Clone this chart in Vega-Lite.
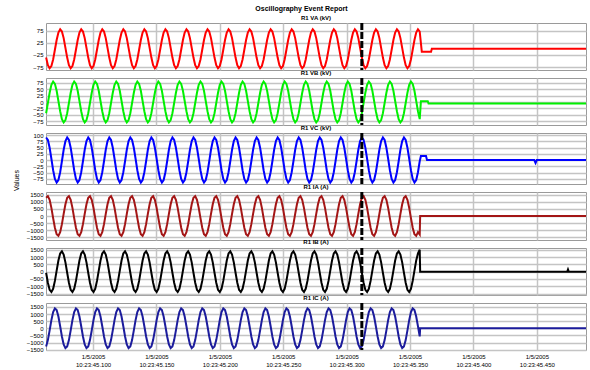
{
"$schema": "https://vega.github.io/schema/vega-lite/v6.json",
"padding": {"left": 12, "top": 5, "right": 3, "bottom": 0},
"background": "white",
"title": {"text": "Oscillography Event Report", "fontSize": 7, "fontWeight": "bold", "offset": 2, "anchor": "middle"},
"data": {"values": [
{"t":63,"va":-36,"vb":-44,"vc":90,"ia":1279,"ib":-73,"ic":-1279},
{"t":64.38,"va":-67,"vb":-4,"vc":80,"ia":1393,"ib":-763,"ic":-823},
{"t":65.77,"va":-80,"vb":36,"vc":49,"ia":1133,"ib":-1247,"ic":-147},
{"t":67.15,"va":-71,"vb":67,"vc":5,"ia":570,"ib":-1398,"ic":570},
{"t":68.53,"va":-44,"vb":80,"vc":-41,"ia":-147,"ib":-1174,"ic":1133},
{"t":69.92,"va":-4,"vb":71,"vc":-76,"ia":-823,"ib":-636,"ic":1393},
{"t":71.3,"va":36,"vb":44,"vc":-90,"ia":-1279,"ib":73,"ic":1279},
{"t":72.68,"va":67,"vb":4,"vc":-80,"ia":-1393,"ib":763,"ic":823},
{"t":74.07,"va":80,"vb":-36,"vc":-49,"ia":-1133,"ib":1247,"ic":147},
{"t":75.45,"va":71,"vb":-67,"vc":-5,"ia":-570,"ib":1398,"ic":-570},
{"t":76.83,"va":44,"vb":-80,"vc":41,"ia":147,"ib":1174,"ic":-1133},
{"t":78.22,"va":4,"vb":-71,"vc":76,"ia":823,"ib":636,"ic":-1393},
{"t":79.6,"va":-36,"vb":-44,"vc":90,"ia":1279,"ib":-73,"ic":-1279},
{"t":80.98,"va":-67,"vb":-4,"vc":80,"ia":1393,"ib":-763,"ic":-823},
{"t":82.37,"va":-80,"vb":36,"vc":49,"ia":1133,"ib":-1247,"ic":-147},
{"t":83.75,"va":-71,"vb":67,"vc":5,"ia":570,"ib":-1398,"ic":570},
{"t":85.13,"va":-44,"vb":80,"vc":-41,"ia":-147,"ib":-1174,"ic":1133},
{"t":86.52,"va":-4,"vb":71,"vc":-76,"ia":-823,"ib":-636,"ic":1393},
{"t":87.9,"va":36,"vb":44,"vc":-90,"ia":-1279,"ib":73,"ic":1279},
{"t":89.28,"va":67,"vb":4,"vc":-80,"ia":-1393,"ib":763,"ic":823},
{"t":90.67,"va":80,"vb":-36,"vc":-49,"ia":-1133,"ib":1247,"ic":147},
{"t":92.05,"va":71,"vb":-67,"vc":-5,"ia":-570,"ib":1398,"ic":-570},
{"t":93.43,"va":44,"vb":-80,"vc":41,"ia":147,"ib":1174,"ic":-1133},
{"t":94.82,"va":4,"vb":-71,"vc":76,"ia":823,"ib":636,"ic":-1393},
{"t":96.2,"va":-36,"vb":-44,"vc":90,"ia":1279,"ib":-73,"ic":-1279},
{"t":97.58,"va":-67,"vb":-4,"vc":80,"ia":1393,"ib":-763,"ic":-823},
{"t":98.97,"va":-80,"vb":36,"vc":49,"ia":1133,"ib":-1247,"ic":-147},
{"t":100.35,"va":-71,"vb":67,"vc":5,"ia":570,"ib":-1398,"ic":570},
{"t":101.73,"va":-44,"vb":80,"vc":-41,"ia":-147,"ib":-1174,"ic":1133},
{"t":103.12,"va":-4,"vb":71,"vc":-76,"ia":-823,"ib":-636,"ic":1393},
{"t":104.5,"va":36,"vb":44,"vc":-90,"ia":-1279,"ib":73,"ic":1279},
{"t":105.88,"va":67,"vb":4,"vc":-80,"ia":-1393,"ib":763,"ic":823},
{"t":107.27,"va":80,"vb":-36,"vc":-49,"ia":-1133,"ib":1247,"ic":147},
{"t":108.65,"va":71,"vb":-67,"vc":-5,"ia":-570,"ib":1398,"ic":-570},
{"t":110.03,"va":44,"vb":-80,"vc":41,"ia":147,"ib":1174,"ic":-1133},
{"t":111.42,"va":4,"vb":-71,"vc":76,"ia":823,"ib":636,"ic":-1393},
{"t":112.8,"va":-36,"vb":-44,"vc":90,"ia":1279,"ib":-73,"ic":-1279},
{"t":114.18,"va":-67,"vb":-4,"vc":80,"ia":1393,"ib":-763,"ic":-823},
{"t":115.57,"va":-80,"vb":36,"vc":49,"ia":1133,"ib":-1247,"ic":-147},
{"t":116.95,"va":-71,"vb":67,"vc":5,"ia":570,"ib":-1398,"ic":570},
{"t":118.33,"va":-44,"vb":80,"vc":-41,"ia":-147,"ib":-1174,"ic":1133},
{"t":119.72,"va":-4,"vb":71,"vc":-76,"ia":-823,"ib":-636,"ic":1393},
{"t":121.1,"va":36,"vb":44,"vc":-90,"ia":-1279,"ib":73,"ic":1279},
{"t":122.48,"va":67,"vb":4,"vc":-80,"ia":-1393,"ib":763,"ic":823},
{"t":123.87,"va":80,"vb":-36,"vc":-49,"ia":-1133,"ib":1247,"ic":147},
{"t":125.25,"va":71,"vb":-67,"vc":-5,"ia":-570,"ib":1398,"ic":-570},
{"t":126.63,"va":44,"vb":-80,"vc":41,"ia":147,"ib":1174,"ic":-1133},
{"t":128.02,"va":4,"vb":-71,"vc":76,"ia":823,"ib":636,"ic":-1393},
{"t":129.4,"va":-36,"vb":-44,"vc":90,"ia":1279,"ib":-73,"ic":-1279},
{"t":130.78,"va":-67,"vb":-4,"vc":80,"ia":1393,"ib":-763,"ic":-823},
{"t":132.17,"va":-80,"vb":36,"vc":49,"ia":1133,"ib":-1247,"ic":-147},
{"t":133.55,"va":-71,"vb":67,"vc":5,"ia":570,"ib":-1398,"ic":570},
{"t":134.93,"va":-44,"vb":80,"vc":-41,"ia":-147,"ib":-1174,"ic":1133},
{"t":136.32,"va":-4,"vb":71,"vc":-76,"ia":-823,"ib":-636,"ic":1393},
{"t":137.7,"va":36,"vb":44,"vc":-90,"ia":-1279,"ib":73,"ic":1279},
{"t":139.08,"va":67,"vb":4,"vc":-80,"ia":-1393,"ib":763,"ic":823},
{"t":140.47,"va":80,"vb":-36,"vc":-49,"ia":-1133,"ib":1247,"ic":147},
{"t":141.85,"va":71,"vb":-67,"vc":-5,"ia":-570,"ib":1398,"ic":-570},
{"t":143.23,"va":44,"vb":-80,"vc":41,"ia":147,"ib":1174,"ic":-1133},
{"t":144.62,"va":4,"vb":-71,"vc":76,"ia":823,"ib":636,"ic":-1393},
{"t":146,"va":-36,"vb":-44,"vc":90,"ia":1279,"ib":-73,"ic":-1279},
{"t":147.38,"va":-67,"vb":-4,"vc":80,"ia":1393,"ib":-763,"ic":-823},
{"t":148.77,"va":-80,"vb":36,"vc":49,"ia":1133,"ib":-1247,"ic":-147},
{"t":150.15,"va":-71,"vb":67,"vc":5,"ia":570,"ib":-1398,"ic":570},
{"t":151.53,"va":-44,"vb":80,"vc":-41,"ia":-147,"ib":-1174,"ic":1133},
{"t":152.92,"va":-4,"vb":71,"vc":-76,"ia":-823,"ib":-636,"ic":1393},
{"t":154.3,"va":36,"vb":44,"vc":-90,"ia":-1279,"ib":73,"ic":1279},
{"t":155.68,"va":67,"vb":4,"vc":-80,"ia":-1393,"ib":763,"ic":823},
{"t":157.07,"va":80,"vb":-36,"vc":-49,"ia":-1133,"ib":1247,"ic":147},
{"t":158.45,"va":71,"vb":-67,"vc":-5,"ia":-570,"ib":1398,"ic":-570},
{"t":159.83,"va":44,"vb":-80,"vc":41,"ia":147,"ib":1174,"ic":-1133},
{"t":161.22,"va":4,"vb":-71,"vc":76,"ia":823,"ib":636,"ic":-1393},
{"t":162.6,"va":-36,"vb":-44,"vc":90,"ia":1279,"ib":-73,"ic":-1279},
{"t":163.98,"va":-67,"vb":-4,"vc":80,"ia":1393,"ib":-763,"ic":-823},
{"t":165.37,"va":-80,"vb":36,"vc":49,"ia":1133,"ib":-1247,"ic":-147},
{"t":166.75,"va":-71,"vb":67,"vc":5,"ia":570,"ib":-1398,"ic":570},
{"t":168.13,"va":-44,"vb":80,"vc":-41,"ia":-147,"ib":-1174,"ic":1133},
{"t":169.52,"va":-4,"vb":71,"vc":-76,"ia":-823,"ib":-636,"ic":1393},
{"t":170.9,"va":36,"vb":44,"vc":-90,"ia":-1279,"ib":73,"ic":1279},
{"t":172.28,"va":67,"vb":4,"vc":-80,"ia":-1393,"ib":763,"ic":823},
{"t":173.67,"va":80,"vb":-36,"vc":-49,"ia":-1133,"ib":1247,"ic":147},
{"t":175.05,"va":71,"vb":-67,"vc":-5,"ia":-570,"ib":1398,"ic":-570},
{"t":176.43,"va":44,"vb":-80,"vc":41,"ia":147,"ib":1174,"ic":-1133},
{"t":177.82,"va":4,"vb":-71,"vc":76,"ia":823,"ib":636,"ic":-1393},
{"t":179.2,"va":-36,"vb":-44,"vc":90,"ia":1279,"ib":-73,"ic":-1279},
{"t":180.58,"va":-67,"vb":-4,"vc":80,"ia":1393,"ib":-763,"ic":-823},
{"t":181.97,"va":-80,"vb":36,"vc":49,"ia":1133,"ib":-1247,"ic":-147},
{"t":183.35,"va":-71,"vb":67,"vc":5,"ia":570,"ib":-1398,"ic":570},
{"t":184.73,"va":-44,"vb":80,"vc":-41,"ia":-147,"ib":-1174,"ic":1133},
{"t":186.12,"va":-4,"vb":71,"vc":-76,"ia":-823,"ib":-636,"ic":1393},
{"t":187.5,"va":36,"vb":44,"vc":-90,"ia":-1279,"ib":73,"ic":1279},
{"t":188.88,"va":67,"vb":4,"vc":-80,"ia":-1393,"ib":763,"ic":823},
{"t":190.27,"va":80,"vb":-36,"vc":-49,"ia":-1133,"ib":1247,"ic":147},
{"t":191.65,"va":71,"vb":-67,"vc":-5,"ia":-570,"ib":1398,"ic":-570},
{"t":193.03,"va":44,"vb":-80,"vc":41,"ia":147,"ib":1174,"ic":-1133},
{"t":194.42,"va":4,"vb":-71,"vc":76,"ia":823,"ib":636,"ic":-1393},
{"t":195.8,"va":-36,"vb":-44,"vc":90,"ia":1279,"ib":-73,"ic":-1279},
{"t":197.18,"va":-67,"vb":-4,"vc":80,"ia":1393,"ib":-763,"ic":-823},
{"t":198.57,"va":-80,"vb":36,"vc":49,"ia":1133,"ib":-1247,"ic":-147},
{"t":199.95,"va":-71,"vb":67,"vc":5,"ia":570,"ib":-1398,"ic":570},
{"t":201.33,"va":-44,"vb":80,"vc":-41,"ia":-147,"ib":-1174,"ic":1133},
{"t":202.72,"va":-4,"vb":71,"vc":-76,"ia":-823,"ib":-636,"ic":1393},
{"t":204.1,"va":36,"vb":44,"vc":-90,"ia":-1279,"ib":73,"ic":1279},
{"t":205.48,"va":67,"vb":4,"vc":-80,"ia":-1393,"ib":763,"ic":823},
{"t":206.87,"va":80,"vb":-36,"vc":-49,"ia":-1133,"ib":1247,"ic":147},
{"t":208.25,"va":71,"vb":-67,"vc":-5,"ia":-570,"ib":1398,"ic":-570},
{"t":209.63,"va":44,"vb":-80,"vc":41,"ia":147,"ib":1174,"ic":-1133},
{"t":211.02,"va":4,"vb":-71,"vc":76,"ia":823,"ib":636,"ic":-1393},
{"t":212.4,"va":-36,"vb":-44,"vc":90,"ia":1279,"ib":-73,"ic":-1279},
{"t":213.78,"va":-67,"vb":-4,"vc":80,"ia":1393,"ib":-763,"ic":-823},
{"t":215.17,"va":-80,"vb":36,"vc":49,"ia":1133,"ib":-1247,"ic":-147},
{"t":216.55,"va":-71,"vb":67,"vc":5,"ia":570,"ib":-1398,"ic":570},
{"t":217.93,"va":-44,"vb":80,"vc":-41,"ia":-147,"ib":-1174,"ic":1133},
{"t":219.32,"va":-4,"vb":71,"vc":-76,"ia":-823,"ib":-636,"ic":1393},
{"t":220.7,"va":36,"vb":44,"vc":-90,"ia":-1279,"ib":73,"ic":1279},
{"t":222.08,"va":67,"vb":4,"vc":-80,"ia":-1393,"ib":763,"ic":823},
{"t":223.47,"va":80,"vb":-36,"vc":-49,"ia":-1133,"ib":1247,"ic":147},
{"t":224.85,"va":71,"vb":-67,"vc":-5,"ia":-570,"ib":1398,"ic":-570},
{"t":226.23,"va":44,"vb":-80,"vc":41,"ia":147,"ib":1174,"ic":-1133},
{"t":227.62,"va":4,"vb":-71,"vc":76,"ia":823,"ib":636,"ic":-1393},
{"t":229,"va":-36,"vb":-44,"vc":90,"ia":1279,"ib":-73,"ic":-1279},
{"t":230.38,"va":-67,"vb":-4,"vc":80,"ia":1393,"ib":-763,"ic":-823},
{"t":231.77,"va":-80,"vb":36,"vc":49,"ia":1133,"ib":-1247,"ic":-147},
{"t":233.15,"va":-71,"vb":67,"vc":5,"ia":570,"ib":-1398,"ic":570},
{"t":234.53,"va":-44,"vb":80,"vc":-41,"ia":-147,"ib":-1174,"ic":1133},
{"t":235.92,"va":-4,"vb":71,"vc":-76,"ia":-823,"ib":-636,"ic":1393},
{"t":237.3,"va":36,"vb":44,"vc":-90,"ia":-1279,"ib":73,"ic":1279},
{"t":238.68,"va":67,"vb":4,"vc":-80,"ia":-1393,"ib":763,"ic":823},
{"t":240.07,"va":80,"vb":-36,"vc":-49,"ia":-1133,"ib":1247,"ic":147},
{"t":241.45,"va":71,"vb":-67,"vc":-5,"ia":-570,"ib":1398,"ic":-570},
{"t":242.83,"va":44,"vb":-80,"vc":41,"ia":147,"ib":1174,"ic":-1133},
{"t":244.22,"va":4,"vb":-71,"vc":76,"ia":823,"ib":636,"ic":-1393},
{"t":245.6,"va":-36,"vb":-44,"vc":90,"ia":1279,"ib":-73,"ic":-1279},
{"t":246.98,"va":-67,"vb":-4,"vc":80,"ia":1393,"ib":-763,"ic":-823},
{"t":248.37,"va":-80,"vb":36,"vc":49,"ia":1133,"ib":-1247,"ic":-147},
{"t":249.75,"va":-71,"vb":67,"vc":5,"ia":570,"ib":-1398,"ic":570},
{"t":251.13,"va":-44,"vb":80,"vc":-41,"ia":-147,"ib":-1174,"ic":1133},
{"t":252.52,"va":-4,"vb":71,"vc":-76,"ia":-823,"ib":-636,"ic":1393},
{"t":253.9,"va":36,"vb":44,"vc":-90,"ia":-1279,"ib":73,"ic":1279},
{"t":255.28,"va":67,"vb":4,"vc":-80,"ia":-1393,"ib":763,"ic":823},
{"t":256.67,"va":80,"vb":-36,"vc":-49,"ia":-1133,"ib":1247,"ic":147},
{"t":258.05,"va":71,"vb":-67,"vc":-5,"ia":-570,"ib":1398,"ic":-570},
{"t":259.43,"va":44,"vb":-80,"vc":41,"ia":147,"ib":1174,"ic":-1133},
{"t":260.82,"va":4,"vb":-71,"vc":76,"ia":823,"ib":636,"ic":-1393},
{"t":262.2,"va":-36,"vb":-44,"vc":90,"ia":1279,"ib":-73,"ic":-1279},
{"t":263.58,"va":-67,"vb":-4,"vc":80,"ia":1393,"ib":-763,"ic":-823},
{"t":264.97,"va":-80,"vb":36,"vc":49,"ia":1133,"ib":-1247,"ic":-147},
{"t":266.35,"va":-71,"vb":67,"vc":5,"ia":570,"ib":-1398,"ic":570},
{"t":267.73,"va":-44,"vb":80,"vc":-41,"ia":-147,"ib":-1174,"ic":1133},
{"t":269.12,"va":-4,"vb":71,"vc":-76,"ia":-823,"ib":-636,"ic":1393},
{"t":270.5,"va":36,"vb":44,"vc":-90,"ia":-1279,"ib":73,"ic":1279},
{"t":271.88,"va":67,"vb":4,"vc":-80,"ia":-1393,"ib":763,"ic":823},
{"t":273.27,"va":80,"vb":-36,"vc":-49,"ia":-1133,"ib":1247,"ic":147},
{"t":274.65,"va":71,"vb":-67,"vc":-5,"ia":-570,"ib":1398,"ic":-570},
{"t":276.03,"va":44,"vb":-80,"vc":41,"ia":147,"ib":1174,"ic":-1133},
{"t":277.42,"va":4,"vb":-71,"vc":76,"ia":823,"ib":636,"ic":-1393},
{"t":278.8,"va":-36,"vb":-44,"vc":90,"ia":1279,"ib":-73,"ic":-1279},
{"t":280.18,"va":-67,"vb":-4,"vc":80,"ia":1393,"ib":-763,"ic":-823},
{"t":281.57,"va":-80,"vb":36,"vc":49,"ia":1133,"ib":-1247,"ic":-147},
{"t":282.95,"va":-71,"vb":67,"vc":5,"ia":570,"ib":-1398,"ic":570},
{"t":284.33,"va":-44,"vb":80,"vc":-41,"ia":-147,"ib":-1174,"ic":1133},
{"t":285.72,"va":-4,"vb":71,"vc":-76,"ia":-823,"ib":-636,"ic":1393},
{"t":287.1,"va":36,"vb":44,"vc":-90,"ia":-1279,"ib":73,"ic":1279},
{"t":288.48,"va":67,"vb":4,"vc":-80,"ia":-1393,"ib":763,"ic":823},
{"t":289.87,"va":80,"vb":-36,"vc":-49,"ia":-1133,"ib":1247,"ic":147},
{"t":291.25,"va":71,"vb":-67,"vc":-5,"ia":-570,"ib":1398,"ic":-570},
{"t":292.63,"va":44,"vb":-80,"vc":41,"ia":147,"ib":1174,"ic":-1133},
{"t":294.02,"va":4,"vb":-71,"vc":76,"ia":823,"ib":636,"ic":-1393},
{"t":295.4,"va":-36,"vb":-44,"vc":90,"ia":1279,"ib":-73,"ic":-1279},
{"t":296.78,"va":-67,"vb":-4,"vc":80,"ia":1393,"ib":-763,"ic":-823},
{"t":298.17,"va":-80,"vb":36,"vc":49,"ia":1133,"ib":-1247,"ic":-147},
{"t":299.55,"va":-71,"vb":67,"vc":5,"ia":570,"ib":-1398,"ic":570},
{"t":300.93,"va":-44,"vb":80,"vc":-41,"ia":-147,"ib":-1174,"ic":1133},
{"t":302.32,"va":-4,"vb":71,"vc":-76,"ia":-823,"ib":-636,"ic":1393},
{"t":303.7,"va":36,"vb":44,"vc":-90,"ia":-1279,"ib":73,"ic":1279},
{"t":305.08,"va":67,"vb":4,"vc":-80,"ia":-1393,"ib":763,"ic":823},
{"t":306.47,"va":80,"vb":-36,"vc":-49,"ia":-1133,"ib":1247,"ic":147},
{"t":307.85,"va":71,"vb":-67,"vc":-5,"ia":-570,"ib":1398,"ic":-570},
{"t":309.23,"va":44,"vb":-80,"vc":41,"ia":147,"ib":1174,"ic":-1133},
{"t":310.62,"va":4,"vb":-71,"vc":76,"ia":823,"ib":636,"ic":-1393},
{"t":312,"va":-36,"vb":-44,"vc":90,"ia":1279,"ib":-73,"ic":-1279},
{"t":313.38,"va":-67,"vb":-4,"vc":80,"ia":1393,"ib":-763,"ic":-823},
{"t":314.77,"va":-80,"vb":36,"vc":49,"ia":1133,"ib":-1247,"ic":-147},
{"t":316.15,"va":-71,"vb":67,"vc":5,"ia":570,"ib":-1398,"ic":570},
{"t":317.53,"va":-44,"vb":80,"vc":-41,"ia":-147,"ib":-1174,"ic":1133},
{"t":318.92,"va":-4,"vb":71,"vc":-76,"ia":-823,"ib":-636,"ic":1393},
{"t":320.3,"va":36,"vb":44,"vc":-90,"ia":-1279,"ib":73,"ic":1279},
{"t":321.68,"va":67,"vb":4,"vc":-80,"ia":-1393,"ib":763,"ic":823},
{"t":323.07,"va":80,"vb":-36,"vc":-49,"ia":-1133,"ib":1247,"ic":147},
{"t":324.45,"va":71,"vb":-67,"vc":-5,"ia":-570,"ib":1398,"ic":-570},
{"t":325.83,"va":44,"vb":-80,"vc":41,"ia":147,"ib":1174,"ic":-1133},
{"t":327.22,"va":4,"vb":-71,"vc":76,"ia":823,"ib":636,"ic":-1393},
{"t":328.6,"va":-36,"vb":-44,"vc":90,"ia":1279,"ib":-73,"ic":-1279},
{"t":329.98,"va":-67,"vb":-4,"vc":80,"ia":1393,"ib":-763,"ic":-823},
{"t":331.37,"va":-80,"vb":36,"vc":49,"ia":1133,"ib":-1247,"ic":-147},
{"t":332.75,"va":-71,"vb":67,"vc":5,"ia":570,"ib":-1398,"ic":570},
{"t":334.13,"va":-44,"vb":80,"vc":-41,"ia":-147,"ib":-1174,"ic":1133},
{"t":335.52,"va":-4,"vb":71,"vc":-76,"ia":-823,"ib":-636,"ic":1393},
{"t":336.9,"va":36,"vb":44,"vc":-90,"ia":-1279,"ib":73,"ic":1279},
{"t":338.28,"va":67,"vb":4,"vc":-80,"ia":-1393,"ib":763,"ic":823},
{"t":339.67,"va":80,"vb":-36,"vc":-49,"ia":-1133,"ib":1247,"ic":147},
{"t":341.05,"va":71,"vb":-67,"vc":-5,"ia":-570,"ib":1398,"ic":-570},
{"t":342.43,"va":44,"vb":-80,"vc":41,"ia":147,"ib":1174,"ic":-1133},
{"t":343.82,"va":4,"vb":-71,"vc":76,"ia":823,"ib":636,"ic":-1393},
{"t":345.2,"va":-36,"vb":-44,"vc":90,"ia":1279,"ib":-73,"ic":-1279},
{"t":346.58,"va":-67,"vb":-4,"vc":80,"ia":1393,"ib":-763,"ic":-823},
{"t":347.97,"va":-80,"vb":36,"vc":49,"ia":1133,"ib":-1247,"ic":-147},
{"t":349.35,"va":-71,"vb":67,"vc":5,"ia":570,"ib":-1398,"ic":570},
{"t":350.73,"va":-44,"vb":80,"vc":-41,"ia":-147,"ib":-1174,"ic":1133},
{"t":352.12,"va":-4,"vb":71,"vc":-76,"ia":-823,"ib":-636,"ic":1393},
{"t":353.5,"va":36,"vb":44,"vc":-90,"ia":-1279,"ib":73,"ic":1279},
{"t":354.88,"va":67,"vb":4,"vc":-80,"ia":-1393,"ib":763,"ic":823},
{"t":356.27,"va":80,"vb":-36,"vc":-49,"ia":-1133,"ib":1247,"ic":147},
{"t":357.65,"va":71,"vb":-67,"vc":-5,"ia":-1300,"ib":1500,"ic":-570},
{"t":358,"ia":0,"ib":0,"ic":0},
{"t":358.6,"vb":3,"vc":16},
{"t":359.3,"va":-12},
{"t":362.6,"vc":16},
{"t":363.4,"vc":0},
{"t":364,"vb":3},
{"t":364.6,"vb":-6},
{"t":366.6,"va":-12},
{"t":367.2,"va":0},
{"t":448,"vc":0},
{"t":449,"vc":-12},
{"t":450,"vc":0},
{"t":474,"ib":0},
{"t":474.6,"ib":150},
{"t":475.2,"ib":0},
{"t":488.8,"va":0,"vb":-6,"vc":0,"ia":0,"ib":0,"ic":0}
]},
"spacing": 8,
"bounds": "flush",
"vconcat": [
{"width": 540, "height": 47, "title": "R1 VA (kV)",
 "layer": [
  {"transform": [{"filter": {"field": "va", "valid": true}}],
   "mark": {"type": "line", "color": "#ff0000", "strokeWidth": 2},
   "encoding": {
    "x": {"field": "t", "type": "quantitative", "scale": {"domain": [62.9, 488.8], "nice": false, "zero": false}, "axis": {"values": [100,150,200,250,300,350,400,450], "labels": false, "title": null, "maxExtent": 0}},
    "y": {"field": "va", "type": "quantitative", "scale": {"domain": [-87, 106], "nice": false, "zero": false}, "axis": {"values": [75,25,-25,-75], "title": null}}}},
  {"data": {"values": [{}]}, "mark": {"type": "rule", "color": "#000000", "strokeWidth": 3, "strokeDash": [7,2]}, "encoding": {"x": {"datum": 312}}}
 ]},
{"width": 540, "height": 47, "title": "R1 VB (kV)",
 "layer": [
  {"transform": [{"filter": {"field": "vb", "valid": true}}],
   "mark": {"type": "line", "color": "#00f000", "strokeWidth": 2},
   "encoding": {
    "x": {"field": "t", "type": "quantitative", "scale": {"domain": [62.9, 488.8], "nice": false, "zero": false}, "axis": {"values": [100,150,200,250,300,350,400,450], "labels": false, "title": null, "maxExtent": 0}},
    "y": {"field": "vb", "type": "quantitative", "scale": {"domain": [-90, 94], "nice": false, "zero": false}, "axis": {"values": [75,50,25,0,-25,-50,-75], "title": null}}}},
  {"data": {"values": [{}]}, "mark": {"type": "rule", "color": "#000000", "strokeWidth": 3, "strokeDash": [7,2]}, "encoding": {"x": {"datum": 312}}}
 ]},
{"width": 540, "height": 51, "title": "R1 VC (kV)",
 "layer": [
  {"transform": [{"filter": {"field": "vc", "valid": true}}],
   "mark": {"type": "line", "color": "#0000ff", "strokeWidth": 2},
   "encoding": {
    "x": {"field": "t", "type": "quantitative", "scale": {"domain": [62.9, 488.8], "nice": false, "zero": false}, "axis": {"values": [100,150,200,250,300,350,400,450], "labels": false, "title": null, "maxExtent": 0}},
    "y": {"field": "vc", "type": "quantitative", "scale": {"domain": [-96, 108], "nice": false, "zero": false}, "axis": {"values": [100,75,50,25,0,-25,-50,-75], "title": "Values", "titleY": 47, "titlePadding": 13}}}},
  {"data": {"values": [{}]}, "mark": {"type": "rule", "color": "#000000", "strokeWidth": 3, "strokeDash": [7,2]}, "encoding": {"x": {"datum": 312}}}
 ]},
{"width": 540, "height": 48, "title": "R1 IA (A)",
 "layer": [
  {"transform": [{"filter": {"field": "ia", "valid": true}}],
   "mark": {"type": "line", "color": "#a31515", "strokeWidth": 2},
   "encoding": {
    "x": {"field": "t", "type": "quantitative", "scale": {"domain": [62.9, 488.8], "nice": false, "zero": false}, "axis": {"values": [100,150,200,250,300,350,400,450], "labels": false, "title": null, "maxExtent": 0}},
    "y": {"field": "ia", "type": "quantitative", "scale": {"domain": [-1680, 1680], "nice": false, "zero": false}, "axis": {"values": [1500,1000,500,0,-500,-1000,-1500], "format": "d", "title": null}}}},
  {"data": {"values": [{}]}, "mark": {"type": "rule", "color": "#000000", "strokeWidth": 3, "strokeDash": [7,2]}, "encoding": {"x": {"datum": 312}}}
 ]},
{"width": 540, "height": 47, "title": "R1 IB (A)",
 "layer": [
  {"transform": [{"filter": {"field": "ib", "valid": true}}],
   "mark": {"type": "line", "color": "#000000", "strokeWidth": 2},
   "encoding": {
    "x": {"field": "t", "type": "quantitative", "scale": {"domain": [62.9, 488.8], "nice": false, "zero": false}, "axis": {"values": [100,150,200,250,300,350,400,450], "labels": false, "title": null, "maxExtent": 0}},
    "y": {"field": "ib", "type": "quantitative", "scale": {"domain": [-1600, 1620], "nice": false, "zero": false}, "axis": {"values": [1500,1000,500,0,-500,-1000,-1500], "format": "d", "title": null}}}},
  {"data": {"values": [{}]}, "mark": {"type": "rule", "color": "#000000", "strokeWidth": 3, "strokeDash": [7,2]}, "encoding": {"x": {"datum": 312}}}
 ]},
{"width": 540, "height": 47, "title": "R1 IC (A)",
 "layer": [
  {"transform": [{"filter": {"field": "ic", "valid": true}}],
   "mark": {"type": "line", "color": "#1c1c9c", "strokeWidth": 2},
   "encoding": {
    "x": {"field": "t", "type": "quantitative", "scale": {"domain": [62.9, 488.8], "nice": false, "zero": false}, "axis": {"values": [100,150,200,250,300,350,400,450], "labelExpr": "['1/5/2005', '10:23:45.' + format(datum.value, '03d')]", "title": "Time (seconds)", "titlePadding": 1, "labelPadding": 3}},
    "y": {"field": "ic", "type": "quantitative", "scale": {"domain": [-1519, 1771], "nice": false, "zero": false}, "axis": {"values": [1500,1000,500,0,-500,-1000,-1500], "format": "d", "title": null}}}},
  {"data": {"values": [{}]}, "mark": {"type": "rule", "color": "#000000", "strokeWidth": 3, "strokeDash": [7,2]}, "encoding": {"x": {"datum": 312}}}
 ]}
],
"config": {
 "font": "Liberation Sans",
 "view": {"stroke": "#9a9a9a", "strokeWidth": 1},
 "axis": {"labelFontSize": 6, "labelColor": "#000000", "gridColor": "#c4c4c4", "gridWidth": 1.5, "domain": false, "ticks": false, "titleFontSize": 7, "titleFontWeight": "normal", "labelPadding": 3},
 "title": {"fontSize": 6, "fontWeight": "bold", "offset": 1, "color": "#000000"}
}
}
